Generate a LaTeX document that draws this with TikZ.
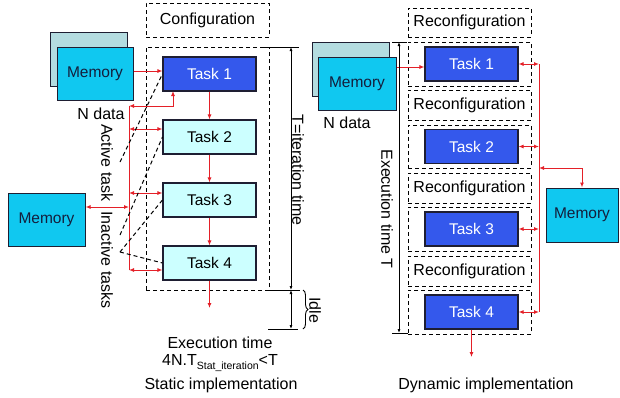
\documentclass[tikz,border=0pt]{standalone}
\usepackage{fontspec}
\setmainfont{Liberation Sans}
\usetikzlibrary{arrows.meta,decorations.pathreplacing,calc}
\definecolor{redA}{RGB}{228,32,40}
\definecolor{taskdark}{RGB}{52,88,236}
\definecolor{tasklight}{RGB}{204,255,255}
\definecolor{memcyan}{RGB}{16,200,240}
\definecolor{memback}{RGB}{180,220,224}
\definecolor{edgec}{RGB}{30,30,50}
\definecolor{memtext}{RGB}{20,30,60}
\begin{document}
\begin{tikzpicture}[x=1pt,y=-1pt,
  box/.style={draw=edgec,line width=1.1pt,inner sep=0pt,minimum width=93pt,minimum height=34pt,font=\fontsize{15.5}{18}\selectfont},
  darktask/.style={box,fill=taskdark,text=white},
  lighttask/.style={box,fill=tasklight,text=black},
  mem/.style={draw=edgec,line width=1pt,fill=memcyan,inner sep=0pt,text=memtext,font=\fontsize{15.5}{18}\selectfont},
  memb/.style={draw=edgec,line width=1pt,fill=memback,inner sep=0pt},
  dbox/.style={draw,dash pattern=on 4pt off 3pt,line width=1pt,inner sep=0pt,minimum width=123pt,font=\fontsize{16}{19}\selectfont},
  rl/.style={draw=redA,line width=1pt},
  rarrow/.style={rl,-{Latex[length=5pt,width=4pt]}},
  rboth/.style={rl,{Latex[length=5pt,width=4pt]}-{Latex[length=5pt,width=4pt]}},
  rleft/.style={rl,{Latex[length=5pt,width=4pt]}-},
  dl/.style={dash pattern=on 4pt off 3pt,line width=1pt},
  lbl/.style={font=\fontsize{16}{19}\selectfont,inner sep=0pt},
  ruler/.style={line width=0.9pt,{Latex[length=4pt,width=3pt]}-{Latex[length=4pt,width=3pt]}},
  plain/.style={line width=0.9pt}
]
\fill[white] (0,0) rectangle (620,397);
\useasboundingbox (0,0) rectangle (620,397);

% ---------------- Static implementation (left) ----------------
\node[dbox,minimum height=34pt] (cfg) at (207.5,20) {Configuration};
\node[dbox,minimum height=243pt] (bigL) at (207.5,168.5) {};

\node[memb,minimum width=77pt,minimum height=54pt] (memTLb) at (88.5,59) {};
\node[mem,minimum width=76pt,minimum height=53pt] (memTL) at (95,73.5) {Memory};
\node[lbl] (ndL) at (101,114) {N data};

\node[darktask] (t1L) at (209.5,74) {Task 1};
\node[lighttask] (t2L) at (209.5,137) {Task 2};
\node[lighttask] (t3L) at (209.5,200) {Task 3};
\node[lighttask] (t4L) at (209.5,263) {Task 4};

\node[mem,minimum width=77pt,minimum height=53pt] (memL) at (46.5,219.5) {Memory};

% red connections
\draw[rarrow] (memTL.east |- 0,71) -- (t1L.west |- 0,71);
\draw[rarrow] (t1L.south) -- (t2L.north);
\draw[rarrow] (t2L.south) -- (t3L.north);
\draw[rarrow] (t3L.south) -- (t4L.north);
\coordinate (outL) at (209.5,308);
\draw[rarrow] (t4L.south) -- (outL);

\coordinate (b1) at (129,106);
\coordinate (b2) at (129,129);
\coordinate (b3) at (129,193);
\coordinate (bm) at (129,207);
\coordinate (b4) at (129,270);
\coordinate (t1p) at (173,91);
\draw[rl] (b1) -- (b4);
\draw[rboth] (b1) -| (t1p);
\draw[rboth] (b2) -- (t2L.west |- b2);
\draw[rboth] (b3) -- (t3L.west |- b3);
\draw[rboth] (b4) -- (t4L.west |- b4);
\draw[rboth] (bm) -- (memL.east |- bm);

% dashed pointers
\coordinate (a1) at (120,162);
\coordinate (a2) at (120,235);
\coordinate (a3) at (120,252);
\draw[dl] (a1) -- (t1L.west);
\draw[dl] (a2) -- (t2L.west);
\draw[dl] (a3) -- (t3L.west);
\draw[dl] (a3) -- (t4L.west);
\node[lbl,rotate=-90] (act) at (107,163) {Active task};
\node[lbl,rotate=-90] (inact) at (107,260) {Inactive tasks};

% ruler
\draw[plain] (263,47) -- (299,47);
\draw[plain] (268,290) -- (300,290);
\draw[plain] (268,329) -- (298,329);
\draw[ruler] (291,47) -- (291,290);
\draw[ruler] (291,290) -- (291,329);
\node[lbl,rotate=-90] (titer) at (298,170) {T=iteration time};
\draw[plain,decorate,decoration={brace,amplitude=5pt}] (303,290) -- (303,329);
\node[lbl,rotate=-90] (idle) at (315,310) {Idle};

\node[lbl] (ex) at (220,343) {Execution time};
\node[lbl] (fn) at (220,363) {4N.T\raisebox{-4pt}{\fontsize{10.5}{12}\selectfont Stat\_iteration}<T};
\node[lbl] (stat) at (221,385) {Static implementation};

% ---------------- Dynamic implementation (right) ----------------
\node[dbox,minimum height=29pt] (rc1) at (469.5,22.5) {Reconfiguration};
\node[dbox,minimum height=44pt] (tb1) at (469.5,64) {};
\node[dbox,minimum height=30pt] (rc2) at (469.5,105) {Reconfiguration};
\node[dbox,minimum height=43pt] (tb2) at (469.5,146.5) {};
\node[dbox,minimum height=30pt] (rc3) at (469.5,188) {Reconfiguration};
\node[dbox,minimum height=44pt] (tb3) at (469.5,229) {};
\node[dbox,minimum height=30pt] (rc4) at (469.5,271) {Reconfiguration};
\node[dbox,minimum height=44pt] (tb4) at (469.5,312) {};

\node[darktask] (T1R) at (471.5,64) {Task 1};
\node[darktask] (T2R) at (471.5,146.5) {Task 2};
\node[darktask] (T3R) at (471.5,229) {Task 3};
\node[darktask] (T4R) at (471.5,312) {Task 4};

\node[memb,minimum width=77pt,minimum height=54pt] (memRb) at (350.5,69) {};
\node[mem,minimum width=78pt,minimum height=53pt] (memRf) at (357,83.5) {Memory};
\node[lbl] (ndR) at (347,123) {N data};

\node[mem,minimum width=72pt,minimum height=54pt] (memR) at (582,215) {Memory};

\draw[rarrow] (memRf.east |- 0,67) -- (T1R.west |- 0,67);
\coordinate (outR) at (471.5,357);
\draw[rarrow] (T4R.south) -- (outR);

\coordinate (c1) at (539,64);
\coordinate (c2) at (539,146.5);
\coordinate (c3) at (539,229);
\coordinate (c4) at (539,312);
\coordinate (cm) at (539,168);
\draw[rl] (c1) -- (c4);
\draw[rboth] (c1) -- (T1R.east);
\draw[rboth] (c2) -- (T2R.east);
\draw[rboth] (c3) -- (T3R.east);
\draw[rboth] (c4) -- (T4R.east);
\draw[rboth] (cm) -| (memR.north);

% ruler right
\draw[plain] (392,42) -- (407,42);
\draw[plain] (392,333) -- (408,333);
\draw[ruler] (399,42) -- (399,333);
\node[lbl,rotate=-90] (exT) at (387,209) {Execution time T};

\node[lbl] (dyn) at (486,385) {Dynamic implementation};
\end{tikzpicture}
\end{document}
